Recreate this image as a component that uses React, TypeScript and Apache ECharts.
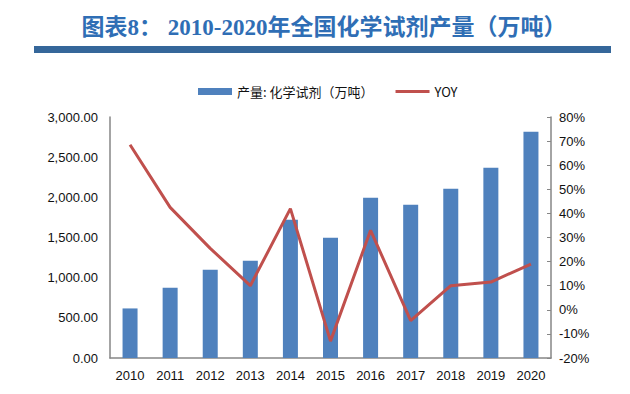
import React, { useEffect, useRef } from "react";
import * as echarts from "echarts";

const years = ["2010", "2011", "2012", "2013", "2014", "2015", "2016", "2017", "2018", "2019", "2020"];
const output = [617, 876, 1099, 1211, 1722, 1498, 1996, 1908, 2108, 2369, 2817];
const yoy = [68.5, 42.5, 25.5, 10.0, 42.0, -13.0, 33.0, -4.5, 10.0, 11.5, 19.0];
const leftTicks = { min: 0, max: 3000, interval: 500 };
const rightTicks = { min: -20, max: 80, interval: 10 };

const titleText = "图表8： 2010-2020年全国化学试剂产量（万吨）";
const barName = "产量: 化学试剂（万吨）";
const lineName = "YOY";

export default function App() {
  const ref = useRef<HTMLDivElement>(null);
  useEffect(() => {
    document.body.style.margin = "0";
    const chart = echarts.init(ref.current!, null, { renderer: "svg" });
    const axisColor = "#868686";
    const labelStyle = { color: "#111", fontSize: 13, fontFamily: "Liberation Sans, Arial, sans-serif" };
    chart.setOption({
      animation: false,
      backgroundColor: "#ffffff",
      title: {
        text: titleText,
        left: 319,
        textAlign: "center",
        top: 11,
        textStyle: {
          color: "#2F6EB5",
          fontSize: 23,
          fontWeight: "bold",
          fontFamily: "Liberation Serif, Noto Sans CJK SC, serif",
        },
      },
      graphic: [
        { type: "rect", shape: { x: 34, y: 46, width: 577, height: 7 }, style: { fill: "#35679A" } },
      ],
      legend: {
        top: 80,
        left: 193,
        itemWidth: 34,
        itemHeight: 7,
        itemGap: 22,
        textStyle: { color: "#111", fontSize: 13, fontFamily: "Noto Sans CJK SC, sans-serif" },
        data: [
          { name: barName, icon: "rect" },
          { name: lineName, icon: "path://M0,0h34v3h-34z", itemStyle: { color: "#C0504D" } },
        ],
      },
      grid: { left: 110, right: 79, top: 117, bottom: 36, containLabel: false },
      xAxis: {
        type: "category",
        data: years,
        axisLine: { show: true, lineStyle: { color: axisColor, width: 1.5 } },
        axisTick: { show: false },
        axisLabel: { ...labelStyle, margin: 11 },
      },
      yAxis: [
        {
          type: "value",
          ...leftTicks,
          axisLine: { show: true, lineStyle: { color: axisColor, width: 1.5 } },
          axisTick: { show: false },
          splitLine: { show: false },
          axisLabel: {
            ...labelStyle,
            margin: 12,
            formatter: (v: number) => v.toLocaleString("en-US", { minimumFractionDigits: 2, maximumFractionDigits: 2 }),
          },
        },
        {
          type: "value",
          ...rightTicks,
          position: "right",
          axisLine: { show: true, lineStyle: { color: axisColor, width: 1.5 } },
          axisTick: { show: true, inside: true, length: 4, lineStyle: { color: axisColor } },
          splitLine: { show: false },
          axisLabel: { ...labelStyle, margin: 8, formatter: "{value}%" },
        },
      ],
      series: [
        {
          name: barName,
          type: "bar",
          data: output,
          barWidth: 15,
          itemStyle: { color: "#4F81BD" },
          yAxisIndex: 0,
        },
        {
          name: lineName,
          type: "line",
          data: yoy,
          yAxisIndex: 1,
          symbol: "none",
          lineStyle: { color: "#C0504D", width: 3 },
          itemStyle: { color: "#C0504D" },
        },
      ],
    });
    return () => chart.dispose();
  }, []);
  return <div ref={ref} style={{ position: "absolute", left: 0, top: 0, width: 630, height: 394 }} />;
}
